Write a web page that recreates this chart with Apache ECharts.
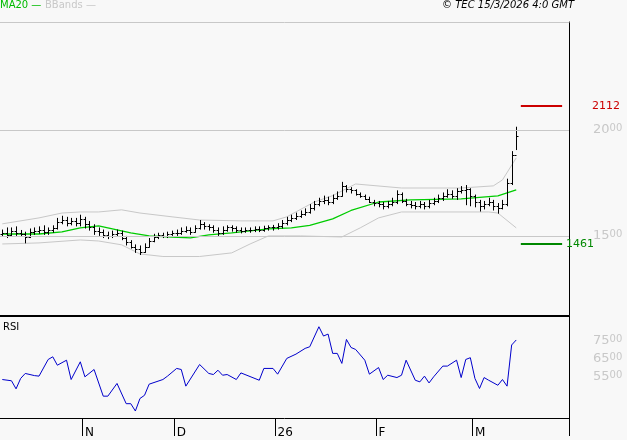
<!DOCTYPE html>
<html>
<head>
<meta charset="utf-8">
<script src="https://cdn.jsdelivr.net/npm/echarts@6/dist/echarts.min.js"></script>
<style>
  html, body { margin: 0; padding: 0; background: #f8f8f8; }
  #chart { width: 627px; height: 440px; }
</style>
</head>
<body>
<div id="chart"></div>
<script>
// OHLC bars, one per trading day
const opens = [1510,1515,1505,1525,1512,1508,1495,1520,1525,1530,1518,
  1528,1535,1565,1575,1560,1570,1560,1578,1555,1540,
  1525,1520,1505,1500,1510,1515,1490,1470,1450,1440,
  1425,1450,1475,1495,1505,1500,1510,1515,1515,1525,
  1530,1520,1535,1555,1545,1540,1530,1515,1530,1540,
  1535,1530,1525,1530,1528,1532,1530,1535,1540,1540,
  1545,1560,1575,1585,1595,1605,1615,1630,1650,1665,
  1670,1660,1680,1690,1735,1720,1715,1700,1690,1675,
  1660,1655,1650,1640,1650,1660,1700,1665,1650,1645,
  1640,1650,1640,1655,1665,1680,1690,1700,1690,1710,
  1715,1720,1690,1660,1640,1650,1660,1640,1630,1650,1750,1880];
const highs = [1530,1540,1540,1545,1528,1520,1535,1540,1545,1550,1540,
  1550,1585,1595,1590,1585,1585,1600,1590,1570,1555,
  1540,1530,1520,1525,1530,1525,1500,1480,1460,1455,
  1465,1490,1510,1515,1515,1520,1525,1530,1540,1545,
  1540,1550,1575,1565,1555,1550,1540,1545,1550,1550,
  1545,1540,1540,1540,1545,1545,1548,1550,1552,1560,
  1575,1590,1600,1610,1620,1630,1650,1665,1680,1690,
  1685,1695,1710,1755,1740,1730,1720,1705,1695,1685,
  1670,1665,1660,1665,1680,1715,1705,1675,1665,1660,
  1665,1660,1670,1680,1695,1705,1720,1715,1725,1735,
  1740,1725,1695,1670,1665,1680,1670,1655,1670,1770,1900,2015];
const lows = [1495,1490,1495,1500,1495,1465,1490,1505,1510,1505,1505,
  1515,1530,1555,1545,1550,1545,1545,1535,1525,1505,
  1500,1490,1485,1490,1495,1480,1455,1440,1420,1410,
  1420,1445,1470,1485,1490,1490,1500,1500,1505,1515,
  1505,1515,1530,1530,1525,1515,1500,1505,1520,1520,
  1515,1512,1515,1515,1518,1518,1520,1525,1525,1530,
  1535,1550,1565,1575,1585,1595,1605,1620,1640,1650,
  1645,1650,1670,1685,1705,1700,1690,1680,1670,1655,
  1640,1635,1625,1630,1640,1650,1655,1640,1630,1625,
  1630,1625,1630,1645,1655,1665,1680,1675,1670,1700,
  1645,1640,1635,1615,1625,1640,1620,1605,1625,1640,1740,1905];
const closes = [1515,1505,1525,1512,1508,1495,1520,1525,1530,1518,1528,
  1535,1565,1575,1560,1570,1560,1578,1555,1540,1525,
  1520,1505,1500,1510,1515,1490,1470,1450,1440,1425,
  1450,1475,1495,1505,1500,1510,1515,1515,1525,1530,
  1520,1535,1555,1545,1540,1530,1515,1530,1540,1535,
  1530,1525,1530,1528,1532,1530,1535,1540,1540,1545,
  1560,1575,1585,1595,1605,1615,1630,1650,1665,1670,
  1660,1680,1690,1735,1720,1715,1700,1690,1675,1660,
  1655,1650,1640,1650,1660,1700,1665,1650,1645,1640,
  1650,1640,1655,1665,1680,1690,1700,1690,1710,1715,
  1720,1690,1660,1640,1650,1660,1640,1630,1650,1750,1880,1970];

// indicators read at some bars only (index, value)
const maIdx = [0,8,13,17,21,25,28,32,37,41,45,50,54,58,63,67,72,76,82,89,100,108,112];
const maVal = [1509,1509,1519,1538,1547,1528,1514,1500,1495,1491,1505,1514,1524,1533,1538,1550,1580,1620,1660,1670,1675,1689,1717];
const upIdx = [0,8,13,17,21,26,30,37,43,52,59,62,68,72,77,87,100,107,109,112];
const upVal = [1557,1585,1608,1613,1613,1623,1608,1590,1575,1571,1571,1590,1660,1690,1745,1726,1726,1736,1764,1868];
const loIdx = [0,8,17,21,26,30,35,43,50,54,58,65,74,78,82,87,106,108,112];
const loVal = [1462,1467,1481,1476,1458,1415,1403,1403,1420,1462,1500,1500,1495,1538,1585,1613,1613,1608,1538];
const rsiIdx = [0,2,3,4,5,7,8,10,11,12,14,15,17,18,20,22,23,25,27,28,29,30,31,32,35,36,38,39,40,43,45,46,47,48,49,51,52,56,57,59,60,62,64,66,67,69,70,71,72,73,74,75,76,77,79,80,82,83,84,86,87,88,90,91,92,93,94,96,97,99,100,101,102,103,104,105,106,108,109,110,111,112];
const rsiVal = [53.5,52.8,48.3,54.1,56.9,55.7,55.4,64.7,66.2,61.5,64.3,53.5,63.4,55.0,59.1,44.2,44.2,51.3,40.0,40.0,35.9,42.9,44.7,50.9,53.5,55.4,59.7,59.1,49.8,61.9,56.9,56.3,58.7,55.9,56.3,53.5,57.2,53.1,59.7,59.7,56.5,65.3,67.7,70.9,71.8,83.0,77.8,78.9,68.1,68.1,62.5,75.9,71.4,70.3,64.3,56.5,60.2,53.5,55.9,54.6,55.9,64.3,53.1,52.2,55.4,51.6,55.0,61.0,61.0,64.3,54.6,64.7,65.7,54.1,48.5,54.6,53.1,50.3,53.5,49.8,72.8,75.6];

const monthIdx = [18, 38, 60, 82, 103];
const monthLabels = ['N', 'D', '26', 'F', 'M'];
const priceTicks = [1500, 2000];
const rsiTicks = [55, 65, 75];
const resistance = 2112;
const support = 1461;
const nCats = 124;

const cats = [];
for (let i = 0; i < nCats; i++) {
  const m = monthIdx.indexOf(i);
  cats.push(m >= 0 ? monthLabels[m] : '');
}
function sparse(idx, vals) {
  const out = new Array(nCats).fill(null);
  idx.forEach((k, j) => { out[k] = vals[j]; });
  return out;
}
const ohlc = opens.map((o, i) => [i, o, highs[i], lows[i], closes[i]]);

function splitLabel(v) {
  const s = String(Math.round(v));
  return '{a|' + s.slice(0, 2) + '}{b|' + s.slice(2) + '}';
}
const tickRich = {
  a: { color: '#c8c8c8', fontSize: 13, fontFamily: 'DejaVu Sans' },
  b: { color: '#c8c8c8', fontSize: 10, fontFamily: 'DejaVu Sans', verticalAlign: 'top' }
};

const chart = echarts.init(document.getElementById('chart'));
chart.setOption({
  backgroundColor: '#f8f8f8',
  animation: false,
  grid: [
    { left: 0, top: 22, width: 569, height: 293 },
    { left: 0, top: 316, width: 569, height: 102 }
  ],
  xAxis: [
    { type: 'category', data: cats, gridIndex: 0, position: 'top',
      axisLine: { lineStyle: { color: '#c8c8c8' } }, axisTick: { show: false }, axisLabel: { show: false } },
    { type: 'category', data: cats, gridIndex: 1, position: 'top',
      axisLine: { lineStyle: { color: '#000', width: 2 } }, axisTick: { show: false }, axisLabel: { show: false } },
    { type: 'category', data: cats, gridIndex: 1, position: 'bottom',
      axisLine: { lineStyle: { color: '#000' } },
      axisTick: { show: true, length: 18, lineStyle: { color: '#000', width: 1 }, customValues: monthIdx },
      axisLabel: { interval: (i) => monthIdx.includes(i), align: 'left', margin: 9, color: '#000',
        fontSize: 12, fontFamily: 'DejaVu Sans' } }
  ],
  yAxis: [
    { type: 'value', gridIndex: 0, position: 'right', min: 1127, max: 2509,
      axisLine: { show: true, lineStyle: { color: '#000' } }, axisTick: { show: false },
      axisLabel: { show: false }, splitLine: { show: false } },
    { type: 'value', gridIndex: 1, position: 'right', min: 32, max: 89,
      axisLine: { show: true, lineStyle: { color: '#000' } }, axisTick: { show: false },
      axisLabel: { show: false }, splitLine: { show: false } }
  ],
  graphic: [
    { type: 'text', left: 0, top: 0, style: { text: 'MA20 —', fill: '#00bb00', font: '10px DejaVu Sans' } },
    { type: 'text', left: 45, top: 0, style: { text: 'BBands —', fill: '#c8c8c8', font: '10px DejaVu Sans' } },
    { type: 'text', right: 53, top: 0, style: { text: '© TEC 15/3/2026 4:0 GMT', fill: '#000', font: 'italic 10px DejaVu Sans' } },
    { type: 'text', left: 3, top: 322, style: { text: 'RSI', fill: '#000', font: '10px DejaVu Sans' } }
  ],
  series: [
    { type: 'line', xAxisIndex: 0, yAxisIndex: 0, data: sparse(upIdx, upVal), connectNulls: true,
      symbol: 'none', lineStyle: { color: '#c8c8c8', width: 1 }, z: 1,
      markLine: { silent: true, symbol: 'none', lineStyle: { color: '#c8c8c8', width: 1, type: 'solid' },
        label: { position: 'end', distance: 24, formatter: (p) => splitLabel(p.value), rich: tickRich },
        data: priceTicks.map(v => ({ yAxis: v })) } },
    { type: 'line', xAxisIndex: 0, yAxisIndex: 0, data: sparse(loIdx, loVal), connectNulls: true,
      symbol: 'none', lineStyle: { color: '#c8c8c8', width: 1 }, z: 1 },
    { type: 'line', xAxisIndex: 0, yAxisIndex: 0, data: sparse(maIdx, maVal), connectNulls: true,
      symbol: 'none', lineStyle: { color: '#00cc00', width: 1.3 }, z: 2,
      markLine: { silent: true, symbol: 'none',
        data: [
          [{ coord: [113, resistance], lineStyle: { color: '#cc0000', width: 2, type: 'solid' },
             label: { show: true, position: 'end', distance: 30, formatter: String(resistance), color: '#cc0000', fontSize: 11, fontFamily: 'DejaVu Sans' } },
           { coord: [122, resistance] }],
          [{ coord: [113, support], lineStyle: { color: '#008800', width: 2, type: 'solid' },
             label: { show: true, position: 'end', distance: 4, formatter: String(support), color: '#008800', fontSize: 11, fontFamily: 'DejaVu Sans' } },
           { coord: [122, support] }]
        ] } },
    { type: 'custom', xAxisIndex: 0, yAxisIndex: 0, data: ohlc, z: 3,
      renderItem: (params, api) => {
        const i = api.value(0);
        const hi = api.coord([i, api.value(2)]);
        const lo = api.coord([i, api.value(3)]);
        const op = api.coord([i, api.value(1)]);
        const cl = api.coord([i, api.value(4)]);
        const x = Math.round(hi[0]) + 0.5;
        const st = { stroke: '#000', lineWidth: 1 };
        return { type: 'group', children: [
          { type: 'line', shape: { x1: x, y1: hi[1], x2: x, y2: lo[1] }, style: st },
          { type: 'line', shape: { x1: x - 2, y1: Math.round(op[1]) + 0.5, x2: x, y2: Math.round(op[1]) + 0.5 }, style: st },
          { type: 'line', shape: { x1: x, y1: Math.round(cl[1]) + 0.5, x2: x + 2, y2: Math.round(cl[1]) + 0.5 }, style: st }
        ] };
      } },
    { type: 'line', xAxisIndex: 2, yAxisIndex: 1, data: sparse(rsiIdx, rsiVal), connectNulls: true,
      symbol: 'none', lineStyle: { color: '#0000cc', width: 1 },
      markLine: { silent: true, symbol: 'none', lineStyle: { color: 'rgba(0,0,0,0)' },
        label: { position: 'end', distance: 24, formatter: (p) => splitLabel(p.value * 100), rich: tickRich },
        data: rsiTicks.map(v => ({ yAxis: v })) } }
  ]
});
</script>
</body>
</html>
